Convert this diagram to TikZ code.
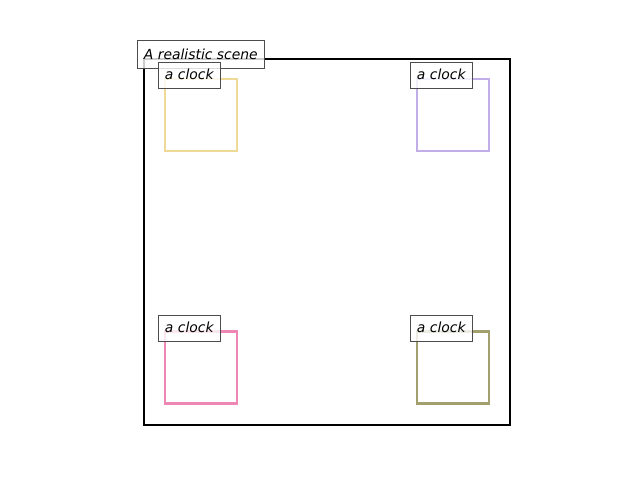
\documentclass[tikz,border=0pt]{standalone}
\usepackage{fontspec}
\setmainfont{DejaVu Sans}[ItalicFont={DejaVu Sans Oblique}]
\usepackage{xcolor}
\usepackage{tikz}
\usetikzlibrary{positioning}
\definecolor{clockyellow}{RGB}{239,217,150}
\definecolor{clocklilac}{RGB}{193,174,232}
\definecolor{clockpink}{RGB}{238,135,180}
\definecolor{clockolive}{RGB}{161,160,110}
\tikzstyle{scenebox} = [rectangle, draw=black, line width=1.44pt]
\tikzstyle{clockbox} = [rectangle, line width=1.5pt,
minimum width=51.84pt, minimum height=51.84pt, inner sep=0pt]
\tikzstyle{tagbox} = [rectangle, fill=white, fill opacity=0.8, text opacity=1,
draw=black!70, line width=0.72pt, anchor=base west, outer sep=0pt,
inner xsep=5pt, inner ysep=4.6pt, text height=7.4pt, text depth=2.3pt,
font=\fontsize{10}{12}\selectfont\itshape]

\begin{document}
\begin{tikzpicture}[x=0.72pt, y=-0.72pt]
    \useasboundingbox (0,0) rectangle (640,480);
    \node (scene) [scenebox, minimum width=263.52pt, minimum height=263.52pt] at (327,242) {};

    \node (clockA) [clockbox, draw=clockyellow] at (201,115) {};
    \node (clockB) [clockbox, draw=clocklilac]  at (453,115) {};
    \node (clockC) [clockbox, draw=clockpink]   at (201,367.5) {};
    \node (clockD) [clockbox, draw=clockolive]  at (453,367.5) {};

    \node (title) [tagbox, text height=8.8pt] at (137,59) {A realistic scene};
    \node (tagA) [tagbox] at (158,79)  {a clock};
    \node (tagB) [tagbox] at (410,79)  {a clock};
    \node (tagC) [tagbox] at (158,332) {a clock};
    \node (tagD) [tagbox] at (410,332) {a clock};
\end{tikzpicture}
\end{document}
